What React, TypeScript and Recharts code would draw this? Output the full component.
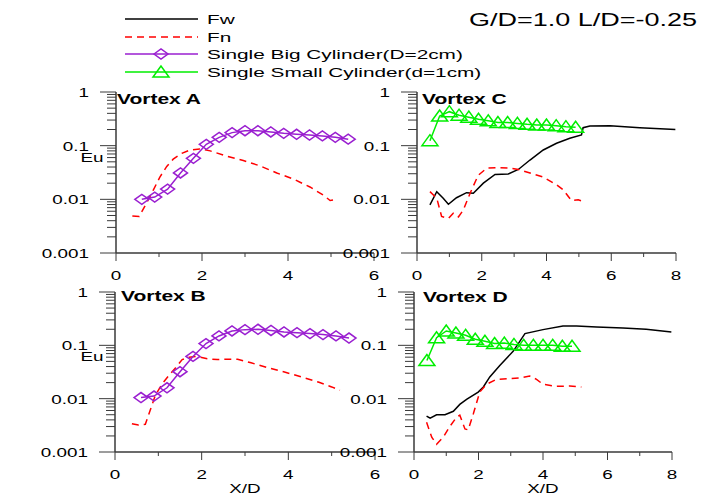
import { LineChart, Line, XAxis, YAxis } from "recharts";

// big cylinder (diamonds), same x stations in panels A and B
const bigX = [0.6, 0.9, 1.2, 1.5, 1.8, 2.1, 2.4, 2.7, 3.0, 3.3, 3.6, 3.9, 4.2, 4.5, 4.8, 5.1, 5.4];
const bigA = [0.01, 0.011, 0.0155, 0.031, 0.058, 0.106, 0.143, 0.175, 0.19, 0.19, 0.18, 0.17, 0.163, 0.158, 0.152, 0.143, 0.132];
const bigB = [0.0105, 0.0112, 0.016, 0.032, 0.062, 0.108, 0.15, 0.186, 0.197, 0.2, 0.19, 0.178, 0.173, 0.166, 0.159, 0.15, 0.137];

// small cylinder (triangles), panels C and D
const smallX = [0.4, 0.7, 1.0, 1.3, 1.6, 1.9, 2.2, 2.5, 2.8, 3.1, 3.4, 3.7, 4.0, 4.3, 4.6, 4.9];
const smallC = [0.124, 0.357, 0.43, 0.37, 0.34, 0.31, 0.29, 0.27, 0.27, 0.26, 0.25, 0.243, 0.243, 0.236, 0.226, 0.22];
const smallD = [0.052, 0.139, 0.186, 0.17, 0.154, 0.13, 0.119, 0.108, 0.11, 0.104, 0.1, 0.1, 0.1, 0.1, 0.096, 0.096];

// Fn, Vortex A
const fnAX = [0.38, 0.54, 0.71, 0.87, 1.02, 1.18, 1.33, 1.53, 1.72, 1.95, 2.19, 2.57, 2.96, 3.35, 3.74, 4.12, 4.51, 4.82, 4.98, 5.09];
const fnAY = [0.0049, 0.0048, 0.0085, 0.015, 0.026, 0.041, 0.056, 0.072, 0.083, 0.087, 0.08, 0.064, 0.053, 0.042, 0.031, 0.024, 0.017, 0.012, 0.0095, 0.0098];

// Fn, Vortex B
const fnBX = [0.39, 0.54, 0.7, 0.81, 0.93, 1.09, 1.24, 1.4, 1.55, 1.71, 1.9, 2.13, 2.36, 2.6, 2.83, 3.14, 3.53, 3.91, 4.3, 4.69, 5.0, 5.19];
const fnBY = [0.0034, 0.0032, 0.0033, 0.006, 0.0115, 0.019, 0.027, 0.038, 0.054, 0.06, 0.062, 0.056, 0.054, 0.055, 0.055, 0.047, 0.038, 0.0316, 0.0256, 0.0205, 0.0166, 0.0144];

// Fw / Fn, Vortex C
const fwCX = [0.4, 0.61, 0.81, 0.97, 1.22, 1.53, 1.74, 2.05, 2.41, 2.82, 3.13, 3.49, 3.9, 4.31, 4.72, 5.08, 5.13, 5.34, 5.96, 6.88, 7.98];
const fwCY = [0.0079, 0.0139, 0.0105, 0.0081, 0.0107, 0.0133, 0.013, 0.02, 0.029, 0.0296, 0.036, 0.054, 0.083, 0.111, 0.137, 0.158, 0.216, 0.233, 0.236, 0.216, 0.2];
const fnCX = [0.4, 0.61, 0.76, 0.97, 1.12, 1.28, 1.43, 1.64, 1.89, 2.15, 2.46, 2.87, 3.13, 3.49, 3.9, 4.31, 4.52, 4.77, 4.98, 5.13];
const fnCY = [0.0139, 0.0105, 0.0048, 0.0044, 0.0055, 0.0047, 0.0063, 0.013, 0.028, 0.038, 0.039, 0.038, 0.036, 0.031, 0.026, 0.0186, 0.015, 0.0095, 0.0098, 0.0091];

// Fw / Fn, Vortex D
const fwDX = [0.39, 0.5, 0.7, 0.96, 1.22, 1.42, 1.63, 1.99, 2.15, 2.35, 2.66, 3.08, 3.44, 4.0, 4.62, 5.04, 5.66, 6.48, 7.2, 7.98];
const fwDY = [0.0047, 0.0043, 0.005, 0.005, 0.0058, 0.0078, 0.0097, 0.0133, 0.0166, 0.0256, 0.042, 0.078, 0.166, 0.197, 0.23, 0.23, 0.22, 0.211, 0.2, 0.178];
const fnDX = [0.39, 0.55, 0.7, 0.91, 1.11, 1.32, 1.42, 1.58, 1.68, 1.84, 2.04, 2.25, 2.56, 2.97, 3.28, 3.59, 3.8, 4.0, 4.42, 4.83, 5.19];
const fnDY = [0.0036, 0.0019, 0.0014, 0.0019, 0.003, 0.0045, 0.0049, 0.0027, 0.0026, 0.0052, 0.0133, 0.0186, 0.023, 0.0237, 0.0245, 0.0266, 0.023, 0.0186, 0.017, 0.0173, 0.0166];

const yMajor = [0.001, 0.01, 0.1, 1];
const yLabels = ["0.001", "0.01", "0.1", "1"];
const legendNames = ["Fw", "Fn", "Single Big Cylinder(D=2cm)", "Single Small Cylinder(d=1cm)"];

const FONT = "'Liberation Sans', Arial, sans-serif";
const BLACK = "#000000";
const RED = "#ff0000";
const PURPLE = "#9a1fd0";
const GREEN = "#00ee00";
const AXIS = "#3a3a3a";

// log minor ticks 2..9 in each decade
const yTicks = [
  ...yMajor.slice(0, 3).flatMap((d) => [1, 2, 3, 4, 5, 6, 7, 8, 9].map((k) => +(d * k).toPrecision(3))),
  1,
];

const zip = (xs: number[], ys: number[]) => xs.map((x, i) => ({ x, y: ys[i] }));

function SText({ x, y, children, size = 13, anchor = "start", weight = "normal", sx = 1.45 }: any) {
  return (
    <text
      transform={`translate(${x},${y}) scale(${sx},1)`}
      fontSize={size}
      fontFamily={FONT}
      fontWeight={weight}
      textAnchor={anchor}
      fill="#000"
    >
      {children}
    </text>
  );
}

function YTick({ x, y, payload }: any) {
  const idx = yMajor.findIndex((m) => Math.abs(m - payload.value) < 1e-9);
  const major = idx >= 0;
  return (
    <g>
      <line x1={x - (major ? 16 : 9)} x2={x} y1={y} y2={y} stroke={AXIS} strokeWidth={1} />
      {major && (
        <SText x={x - 27} y={y + 5} anchor="end">
          {yLabels[idx]}
        </SText>
      )}
    </g>
  );
}

function XTick({ x, y, payload }: any) {
  const major = payload.value % 2 === 0;
  return (
    <g>
      <line x1={x} x2={x} y1={y} y2={y + (major ? 8 : 4)} stroke={AXIS} strokeWidth={1} />
      {major && (
        <SText x={x} y={y + 27} anchor="middle">
          {String(payload.value)}
        </SText>
      )}
    </g>
  );
}

function Diamond({ cx, cy }: any) {
  if (cx == null || cy == null) return <g />;
  return (
    <polygon
      points={`${cx - 7},${cy} ${cx},${cy - 5} ${cx + 7},${cy} ${cx},${cy + 5}`}
      fill="none"
      stroke={PURPLE}
      strokeWidth={1.5}
    />
  );
}

function Triangle({ cx, cy }: any) {
  if (cx == null || cy == null) return <g />;
  return (
    <polygon
      points={`${cx},${cy - 6} ${cx - 8},${cy + 5} ${cx + 8},${cy + 5}`}
      fill="none"
      stroke={GREEN}
      strokeWidth={1.5}
    />
  );
}

const YW = 110;
const XH = 40;
const MT = 12;
const MR = 16;

function Panel({ box, xMax, fw, fn, big, small }: any) {
  const { left, top, right, bottom } = box;
  const xTicks = Array.from({ length: xMax + 1 }, (_, i) => i);
  return (
    <div style={{ position: "absolute", left: left - YW, top: top - MT }}>
      <LineChart
        width={right - left + YW + MR}
        height={bottom - top + MT + XH}
        margin={{ top: MT, right: MR, bottom: 0, left: 0 }}
      >
        <XAxis
          type="number"
          dataKey="x"
          domain={[0, xMax]}
          ticks={xTicks}
          interval={0}
          allowDataOverflow
          height={XH}
          tickSize={0}
          tickMargin={0}
          tickLine={false}
          tick={<XTick />}
          axisLine={{ stroke: AXIS, strokeWidth: 1.5 }}
        />
        <YAxis
          type="number"
          dataKey="y"
          scale="log"
          domain={[0.001, 1]}
          ticks={yTicks}
          interval={0}
          allowDataOverflow
          width={YW}
          tickSize={0}
          tickMargin={0}
          tickLine={false}
          tick={<YTick />}
          axisLine={{ stroke: AXIS, strokeWidth: 1.5 }}
        />
        {fw && (
          <Line data={fw} dataKey="y" type="linear" stroke={BLACK} strokeWidth={1.5} dot={false} isAnimationActive={false} />
        )}
        <Line data={fn} dataKey="y" type="linear" stroke={RED} strokeWidth={1.5} strokeDasharray="7 5" dot={false} isAnimationActive={false} />
        {big && (
          <Line data={big} dataKey="y" type="linear" stroke={PURPLE} strokeWidth={1.5} dot={<Diamond />} isAnimationActive={false} />
        )}
        {small && (
          <Line data={small} dataKey="y" type="linear" stroke={GREEN} strokeWidth={1.5} dot={<Triangle />} isAnimationActive={false} />
        )}
      </LineChart>
    </div>
  );
}

export default function App() {
  const rows = [19, 37, 54, 72];
  return (
    <div style={{ position: "absolute", left: 0, top: 0, width: 703, height: 497, background: "#fff", overflow: "hidden" }}>
      <Panel box={{ left: 116, top: 92, right: 374, bottom: 253 }} xMax={6} fn={zip(fnAX, fnAY)} big={zip(bigX, bigA)} />
      <Panel box={{ left: 417, top: 92, right: 676, bottom: 253 }} xMax={8} fw={zip(fwCX, fwCY)} fn={zip(fnCX, fnCY)} small={zip(smallX, smallC)} />
      <Panel box={{ left: 115, top: 292, right: 375, bottom: 452 }} xMax={6} fn={zip(fnBX, fnBY)} big={zip(bigX, bigB)} />
      <Panel box={{ left: 414, top: 292, right: 672, bottom: 452 }} xMax={8} fw={zip(fwDX, fwDY)} fn={zip(fnDX, fnDY)} small={zip(smallX, smallD)} />

      <svg width={703} height={497} style={{ position: "absolute", left: 0, top: 0, pointerEvents: "none" }}>
        {/* legend */}
        <line x1={125} x2={198} y1={rows[0]} y2={rows[0]} stroke={BLACK} strokeWidth={1.5} />
        <line x1={125} x2={198} y1={rows[1]} y2={rows[1]} stroke={RED} strokeWidth={1.5} strokeDasharray="7 5" />
        <line x1={125} x2={198} y1={rows[2]} y2={rows[2]} stroke={PURPLE} strokeWidth={1.5} />
        <Diamond cx={161} cy={rows[2]} />
        <line x1={125} x2={198} y1={rows[3]} y2={rows[3]} stroke={GREEN} strokeWidth={1.5} />
        <Triangle cx={161} cy={rows[3]} />
        {legendNames.map((n, i) => (
          <SText key={n} x={207} y={rows[i] + 5} size={13} sx={1.6}>
            {n}
          </SText>
        ))}
        <SText x={697} y={26} size={18} sx={1.5} anchor="end">
          G/D=1.0 L/D=-0.25
        </SText>

        {/* panel labels */}
        <SText x={117} y={104} size={14} weight="bold" sx={1.5}>Vortex A</SText>
        <SText x={422} y={104} size={14} weight="bold" sx={1.5}>Vortex C</SText>
        <SText x={121} y={301} size={14} weight="bold" sx={1.5}>Vortex B</SText>
        <SText x={423} y={302} size={14} weight="bold" sx={1.5}>Vortex D</SText>

        {/* axis titles */}
        <SText x={92} y={162} anchor="middle">Eu</SText>
        <SText x={92} y={361} anchor="middle">Eu</SText>
        <SText x={245} y={493} anchor="middle">X/D</SText>
        <SText x={543} y={493} anchor="middle">X/D</SText>
      </svg>
    </div>
  );
}
